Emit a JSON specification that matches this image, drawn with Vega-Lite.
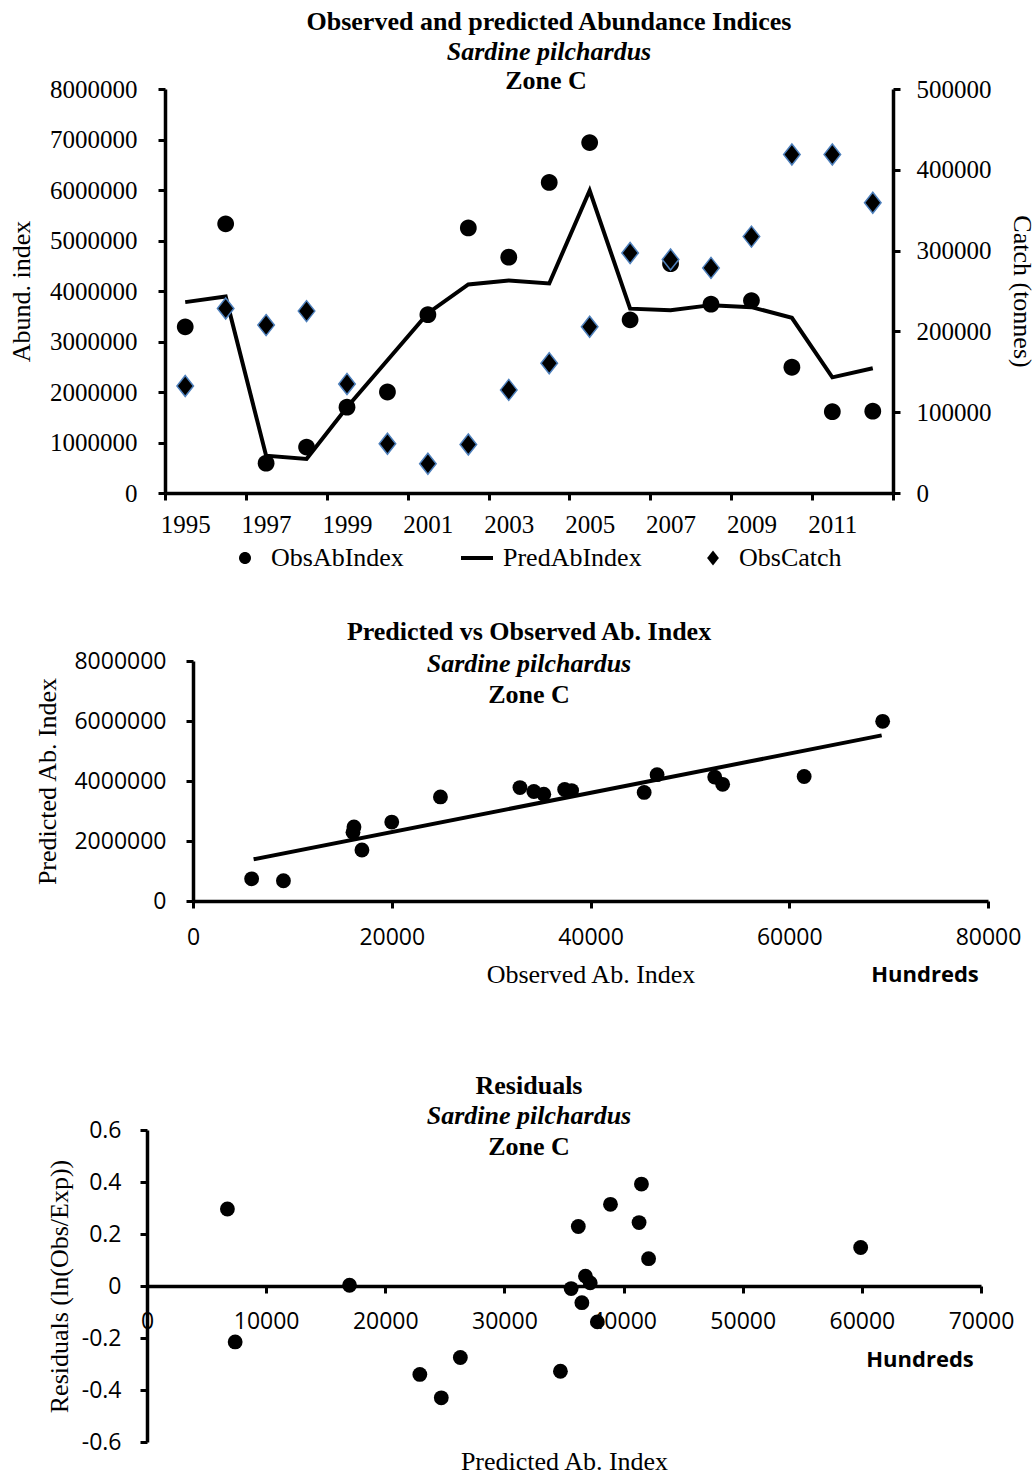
{
  "$schema": "https://vega.github.io/schema/vega-lite/v6.json",
  "padding": {"left": 8, "top": 8, "right": 2, "bottom": 2},
  "datasets": {
    "series": [
      {"year": 1995, "obs": 3290000, "pred": 3780000, "catch": 132500, "resid": -0.138},
      {"year": 1996, "obs": 5330000, "pred": 3890000, "catch": 228400, "resid": 0.314},
      {"year": 1997, "obs": 590000, "pred": 740000, "catch": 207800, "resid": -0.215},
      {"year": 1998, "obs": 910000, "pred": 675000, "catch": 225100, "resid": 0.296},
      {"year": 1999, "obs": 1700000, "pred": 1700000, "catch": 135000, "resid": 0.003},
      {"year": 2000, "obs": 2000000, "pred": 2630000, "catch": 60900, "resid": -0.275},
      {"year": 2001, "obs": 3530000, "pred": 3560000, "catch": 36200, "resid": -0.01},
      {"year": 2002, "obs": 5250000, "pred": 4130000, "catch": 60100, "resid": 0.244},
      {"year": 2003, "obs": 4670000, "pred": 4210000, "catch": 127600, "resid": 0.105},
      {"year": 2004, "obs": 6150000, "pred": 4150000, "catch": 160500, "resid": 0.392},
      {"year": 2005, "obs": 6940000, "pred": 5990000, "catch": 205800, "resid": 0.148},
      {"year": 2006, "obs": 3430000, "pred": 3650000, "catch": 297100, "resid": -0.064},
      {"year": 2007, "obs": 4540000, "pred": 3620000, "catch": 288900, "resid": 0.229},
      {"year": 2008, "obs": 3740000, "pred": 3720000, "catch": 278600, "resid": 0.012},
      {"year": 2009, "obs": 3810000, "pred": 3680000, "catch": 317300, "resid": 0.038},
      {"year": 2010, "obs": 2490000, "pred": 3470000, "catch": 418900, "resid": -0.328},
      {"year": 2011, "obs": 1610000, "pred": 2290000, "catch": 418900, "resid": -0.34},
      {"year": 2012, "obs": 1620000, "pred": 2470000, "catch": 359300, "resid": -0.43}
    ],
    "fitline": [
      {"obs": 610000, "fit": 1390000},
      {"obs": 6930000, "fit": 5520000}
    ]
  },
  "bounds": "flush",
  "center": false,
  "spacing": 168,
  "vconcat": [
    {
      "width": 728,
      "height": 404,
      "title": {"text": "Observed and predicted Abundance Indices", "subtitle": "Sardine pilchardus", "dx": 20, "offset": 3, "subtitlePadding": 4},
      "data": {"name": "series"},
      "layer": [
        {
          "layer": [
            {
              "mark": {"type": "line", "color": "black", "strokeWidth": 4},
              "encoding": {
                "x": {"field": "year", "type": "quantitative", "scale": {"domain": [1994.5, 2012.5], "nice": false, "zero": false},
                  "axis": {"title": null, "values": [1994.5, 1996.5, 1998.5, 2000.5, 2002.5, 2004.5, 2006.5, 2008.5, 2010.5, 2012.5], "labelExpr": "datum.value > 2012 ? '' : format(datum.value + 0.5, 'd')", "labelOffset": 20.2, "labelPadding": 12, "labelFlush": false, "labelOverlap": false}},
                "y": {"field": "pred", "type": "quantitative", "scale": {"domain": [0, 8000000], "nice": false},
                  "axis": {"title": "Abund. index", "values": [0, 1000000, 2000000, 3000000, 4000000, 5000000, 6000000, 7000000, 8000000], "format": "d", "labelPadding": 21, "titlePadding": 15, "labelOverlap": false}}
              }
            },
            {
              "mark": {"type": "point", "filled": true, "fill": "black", "strokeWidth": 0, "opacity": 1, "size": 2000},
              "encoding": {
                "x": {"field": "year", "type": "quantitative"},
                "y": {"field": "obs", "type": "quantitative",
                  "axis": {"title": "Abund. index", "values": [0, 1000000, 2000000, 3000000, 4000000, 5000000, 6000000, 7000000, 8000000], "format": "d", "labelPadding": 21, "titlePadding": 15, "labelOverlap": false}},
                "shape": {"datum": "ObsAbIndex", "type": "nominal",
                  "scale": {"domain": ["ObsAbIndex", "PredAbIndex", "ObsCatch"],
                    "range": ["M0.375,0A0.375,0.375,0,1,1,-0.375,0A0.375,0.375,0,1,1,0.375,0Z", "M-1,-0.125L1,-0.125L1,0.125L-1,0.125Z", "M0,-0.47L0.37,0L0,0.47L-0.37,0Z"]},
                  "legend": {"title": null, "orient": "none", "legendX": 63, "legendY": 452, "direction": "horizontal", "symbolSize": 1024, "labelFont": "Liberation Serif", "labelFontSize": 26, "labelColor": "black", "labelOffset": 9, "columnPadding": 54, "padding": 0,
                    "encode": {"symbols": {"update": {"fill": {"value": "black"}, "opacity": {"value": 1}, "stroke": {"signal": "datum.value === 'ObsCatch' ? '#4F81BD' : 'black'"}, "strokeWidth": {"signal": "datum.value === 'ObsCatch' ? 1.5 : 0"}}}}}}
              }
            },
            {
              "data": {"values": [{}]},
              "mark": {"type": "text", "text": "Zone C", "font": "Liberation Serif", "fontSize": 26, "fontWeight": "bold", "baseline": "middle", "align": "center", "color": "black"},
              "encoding": {
                "x": {"datum": 2003.92, "type": "quantitative"},
                "y": {"datum": 8160000, "type": "quantitative"}
              }
            }
          ]
        },
        {
          "mark": {"type": "point", "filled": true, "fill": "black", "stroke": "#4F81BD", "strokeWidth": 1.5, "opacity": 1, "size": 2000},
          "encoding": {
            "x": {"field": "year", "type": "quantitative"},
            "y": {"field": "catch", "type": "quantitative", "scale": {"domain": [0, 500000], "nice": false},
              "axis": {"orient": "right", "title": "Catch (tonnes)", "values": [0, 100000, 200000, 300000, 400000, 500000], "format": "d", "labelPadding": 16, "titlePadding": 17, "labelOverlap": false}},
            "shape": {"datum": "ObsCatch", "type": "nominal"}
          }
        }
      ],
      "resolve": {"scale": {"y": "independent"}}
    },
    {
      "bounds": "flush",
      "center": false,
      "spacing": 229,
      "vconcat": [
        {
          "width": 823,
          "height": 240,
          "title": {"text": "Predicted vs Observed Ab. Index", "subtitle": "Sardine pilchardus", "dx": -47.5, "offset": -27, "subtitlePadding": 6},
          "layer": [
            {
              "data": {"name": "series"},
              "mark": {"type": "circle", "color": "black", "opacity": 1, "size": 220},
              "encoding": {
                "x": {"field": "obs", "type": "quantitative", "scale": {"domain": [0, 8000000], "nice": false, "range": [28, 823]},
                  "axis": {"title": "Observed Ab. Index", "values": [0, 2000000, 4000000, 6000000, 8000000], "labelExpr": "format(datum.value / 100, 'd')", "labelFont": "Open Sans", "labelFontSize": 23, "labelPadding": 18, "titlePadding": 12, "labelFlush": false, "labelOverlap": false}},
                "y": {"field": "pred", "type": "quantitative", "scale": {"domain": [0, 8000000], "nice": false},
                  "axis": {"title": "Predicted Ab. Index", "offset": -28, "values": [0, 2000000, 4000000, 6000000, 8000000], "format": "d", "labelFont": "Open Sans", "labelFontSize": 23, "labelPadding": 20, "titlePadding": 13, "labelOverlap": false}}
              }
            },
            {
              "data": {"name": "fitline"},
              "mark": {"type": "line", "color": "black", "strokeWidth": 4},
              "encoding": {
                "x": {"field": "obs", "type": "quantitative"},
                "y": {"field": "fit", "type": "quantitative"}
              }
            },
            {
              "data": {"values": [{}]},
              "mark": {"type": "text", "text": "Zone C", "font": "Liberation Serif", "fontSize": 26, "fontWeight": "bold", "baseline": "middle", "align": "center", "color": "black"},
              "encoding": {
                "x": {"datum": 3381000, "type": "quantitative"},
                "y": {"datum": 6867000, "type": "quantitative"}
              }
            },
            {
              "data": {"values": [{}]},
              "mark": {"type": "text", "text": "Hundreds", "font": "Open Sans", "fontSize": 22, "fontWeight": "bold", "baseline": "middle", "align": "center", "color": "black"},
              "encoding": {
                "x": {"datum": 7366000, "type": "quantitative"},
                "y": {"datum": -2467000, "type": "quantitative"}
              }
            }
          ]
        },
        {
          "width": 816,
          "height": 312,
          "title": {"text": "Residuals", "subtitle": "Sardine pilchardus", "dx": -44, "offset": -10, "subtitlePadding": 4},
          "layer": [
            {
              "data": {"name": "series"},
              "mark": {"type": "circle", "color": "black", "opacity": 1, "size": 220},
              "encoding": {
                "x": {"field": "pred", "type": "quantitative", "scale": {"domain": [0, 7000000], "nice": false, "range": [-18, 816]},
                  "axis": {"title": "Predicted Ab. Index", "offset": -156, "values": [0, 1000000, 2000000, 3000000, 4000000, 5000000, 6000000, 7000000], "labelExpr": "format(datum.value / 100, 'd')", "labelFont": "Open Sans", "labelFontSize": 23, "labelPadding": 17, "titlePadding": 115, "labelFlush": false, "labelOverlap": false}},
                "y": {"field": "resid", "type": "quantitative", "scale": {"domain": [-0.6, 0.6], "nice": false, "zero": false},
                  "axis": {"title": "Residuals (ln(Obs/Exp))", "offset": 18, "values": [-0.6, -0.4, -0.2, 0, 0.2, 0.4, 0.6], "labelExpr": "'' + datum.value", "labelFont": "Open Sans", "labelFontSize": 23, "labelPadding": 19, "titlePadding": 9, "labelOverlap": false}}
              }
            },
            {
              "data": {"values": [{}]},
              "mark": {"type": "text", "text": "Zone C", "font": "Liberation Serif", "fontSize": 26, "fontWeight": "bold", "baseline": "middle", "align": "center", "color": "black"},
              "encoding": {
                "x": {"datum": 3206000, "type": "quantitative"},
                "y": {"datum": 0.535, "type": "quantitative"}
              }
            },
            {
              "data": {"values": [{}]},
              "mark": {"type": "text", "text": "Hundreds", "font": "Open Sans", "fontSize": 22, "fontWeight": "bold", "baseline": "middle", "align": "center", "color": "black"},
              "encoding": {
                "x": {"datum": 6488000, "type": "quantitative"},
                "y": {"datum": -0.285, "type": "quantitative"}
              }
            }
          ]
        }
      ]
    }
  ],
  "config": {
    "view": {"stroke": null},
    "font": "Liberation Serif",
    "background": "white",
    "axis": {
      "grid": false,
      "domainColor": "black",
      "domainWidth": 3.5,
      "tickColor": "black",
      "tickWidth": 3,
      "tickSize": 7,
      "labelColor": "black",
      "labelFont": "Liberation Serif",
      "labelFontSize": 25,
      "titleColor": "black",
      "titleFont": "Liberation Serif",
      "titleFontSize": 26,
      "titleFontWeight": "normal"
    },
    "title": {
      "font": "Liberation Serif",
      "fontSize": 26,
      "fontWeight": "bold",
      "color": "black",
      "subtitleFont": "Liberation Serif",
      "subtitleFontSize": 26,
      "subtitleFontStyle": "italic",
      "subtitleFontWeight": "bold",
      "subtitleColor": "black",
      "anchor": "middle",
      "frame": "group"
    }
  }
}
